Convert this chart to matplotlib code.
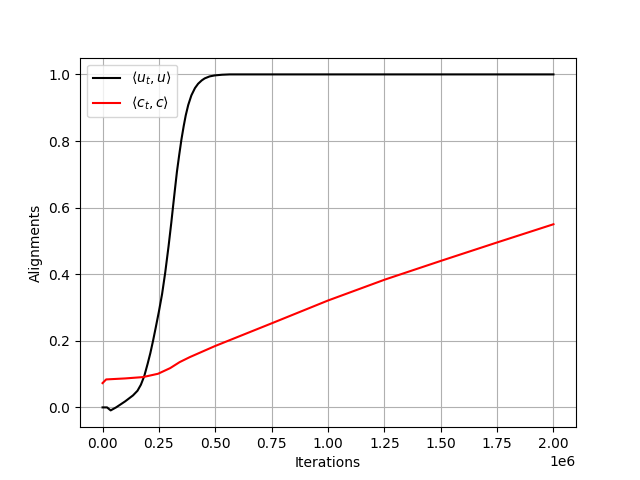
import matplotlib
matplotlib.use('Agg')
import matplotlib.pyplot as plt
import numpy as np

# black curve: <u_t, u>
u_iters = np.array([0, 0.02, 0.036, 0.06, 0.1, 0.135, 0.155, 0.17, 0.185, 0.2, 0.212,
                    0.224, 0.236, 0.25, 0.264, 0.278, 0.293, 0.305, 0.313, 0.322,
                    0.33, 0.34, 0.35, 0.36, 0.369, 0.38, 0.394, 0.41, 0.424, 0.44,
                    0.453, 0.475, 0.498, 0.53, 0.564, 0.6, 1.0, 1.5, 2.0]) * 1e6
u_align = [0.0, 0.0, -0.009, 0.0, 0.018, 0.036, 0.05, 0.068, 0.094, 0.131, 0.163,
           0.2, 0.24, 0.288, 0.34, 0.405, 0.485, 0.555, 0.605, 0.66,
           0.708, 0.758, 0.805, 0.845, 0.877, 0.908, 0.937, 0.959, 0.972, 0.982,
           0.988, 0.994, 0.997, 0.999, 1.0, 1.0, 1.0, 1.0, 1.0]

# red curve: <c_t, c>
c_iters = np.array([0, 0.016, 0.1, 0.179, 0.246, 0.3, 0.342, 0.387, 0.498, 0.752,
                    1.0, 1.253, 1.505, 1.753, 2.0]) * 1e6
c_align = [0.073, 0.084, 0.087, 0.091, 0.101, 0.118, 0.136, 0.151, 0.184, 0.253,
           0.321, 0.384, 0.441, 0.496, 0.55]

plt.figure(figsize=(6.4, 4.8), dpi=100)
plt.plot(u_iters, u_align, color='black', label=r'$\langle u_t, u\rangle$')
plt.plot(c_iters, c_align, color='red', label=r'$\langle c_t, c\rangle$')
plt.xlabel('Iterations')
plt.ylabel('Alignments')
plt.grid(True)
plt.legend(loc='upper left')
plt.savefig('out.png')
plt.close()
